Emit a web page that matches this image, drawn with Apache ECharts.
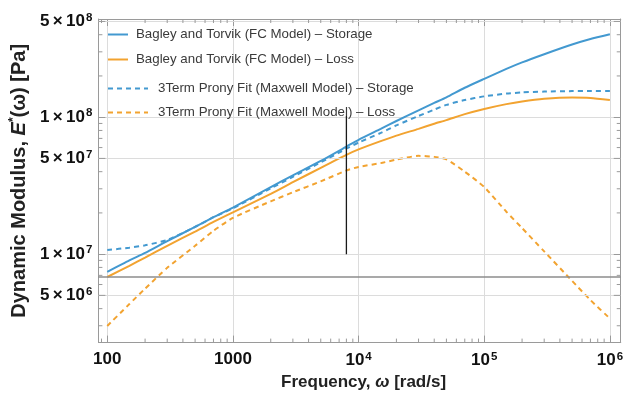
<!DOCTYPE html>
<html><head><meta charset="utf-8">
<script src="https://cdn.jsdelivr.net/npm/echarts@6/dist/echarts.min.js"></script>
<style>html,body{margin:0;padding:0;background:#fff}#c{width:626px;height:396px}</style>
</head><body><div id="c"></div>
<script>
// ---- data ----
const freq = [100,150,200,300,500,700,1000,2000,3000,5000,8000,10000,15000,20000,30000,40000,50000,70000,100000,150000,200000,300000,500000,700000,1000000];
const fcStorage = [7.41e6,9.0e6,1.02e7,1.245e7,1.58e7,1.86e7,2.19e7,3.09e7,3.76e7,4.79e7,6.1e7,6.84e7,8.22e7,9.38e7,1.122e8,1.27e8,1.396e8,1.64e8,1.905e8,2.25e8,2.51e8,2.88e8,3.39e8,3.72e8,4.03e8];
const fcLoss = [6.81e6,8.22e6,9.44e6,1.15e7,1.46e7,1.72e7,2.02e7,2.75e7,3.35e7,4.27e7,5.31e7,5.82e7,6.68e7,7.33e7,8.22e7,8.95e7,9.51e7,1.052e8,1.148e8,1.245e8,1.303e8,1.361e8,1.39e8,1.38e8,1.334e8];
const pronyStorage = [1.07e7,1.115e7,1.16e7,1.27e7,1.58e7,1.86e7,2.16e7,3.02e7,3.67e7,4.68e7,5.89e7,6.53e7,7.67e7,8.71e7,1.02e8,1.135e8,1.23e8,1.334e8,1.419e8,1.486e8,1.517e8,1.538e8,1.55e8,1.55e8,1.55e8];
const pronyLoss = [2.99e6,4.32e6,5.6e6,7.94e6,1.15e7,1.48e7,1.84e7,2.43e7,2.83e7,3.4e7,4.08e7,4.33e7,4.62e7,4.9e7,5.22e7,5.13e7,4.92e7,4.0e7,3.09e7,2.04e7,1.55e7,1.047e7,6.38e6,4.62e6,3.39e6];
const seriesNames = [
  'Bagley and Torvik (FC Model) \u2013 Storage',
  'Bagley and Torvik (FC Model) \u2013 Loss',
  '3Term Prony Fit (Maxwell Model) \u2013 Storage',
  '3Term Prony Fit (Maxwell Model) \u2013 Loss'
];
const markerX = [8000, 8000];
const markerY = [1e7, 1.02e8];
const refLineY = 6.8e6;
const xRange = [85, 1.22e6];
const yRange = [2.26e6, 5.21e8];
const xTickValues = [100, 1000, 10000, 100000, 1000000];
const xTickLabels = ['100', '1000', '10{sup|4}', '10{sup|5}', '10{sup|6}'];
const yDecadeValues = [1e7, 1e8];
const yDecadeLabels = ['1\u2009\u00d7\u200910{sup|7}', '1\u2009\u00d7\u200910{sup|8}'];
const yFiveValues = [5e6, 5e7, 5e8];
const yFiveLabels = ['5\u2009\u00d7\u200910{sup|6}', '5\u2009\u00d7\u200910{sup|7}', '5\u2009\u00d7\u200910{sup|8}'];
const xMinorTicks = [90,200,300,400,500,600,700,800,900,2000,3000,4000,5000,6000,7000,8000,9000,20000,30000,40000,50000,60000,70000,80000,90000,200000,300000,400000,500000,600000,700000,800000,900000];
const yMinorTicks = [3e6,4e6,6e6,7e6,8e6,9e6,2e7,3e7,4e7,6e7,7e7,8e7,9e7,2e8,3e8,4e8];

// ---- style ----
const BLUE = '#4399d0';
const ORANGE = '#f2a330';
const FRAME = '#9a9a9a';
const GRID = '#dcdcdc';
const FONT = '"Liberation Sans", Arial, sans-serif';
const labelRich = {
  sup: {fontSize: 11.5, fontWeight: 'bold', fontFamily: FONT, color: '#111', verticalAlign: 'top', lineHeight: 20, padding: [0,0,0,1]}
};

function zip(xs, ys) { return xs.map((x, i) => [x, ys[i]]); }

function xTick(len) {
  return function (params, api) {
    const cs = params.coordSys;
    const px = api.coord([api.value(0), api.value(1)])[0];
    const b = cs.y + cs.height, t = cs.y;
    const st = {stroke: FRAME, lineWidth: 1};
    return {type: 'group', children: [
      {type: 'line', shape: {x1: px, y1: b, x2: px, y2: b - len}, style: st},
      {type: 'line', shape: {x1: px, y1: t, x2: px, y2: t + len}, style: st}
    ]};
  };
}
function yTick(len) {
  return function (params, api) {
    const cs = params.coordSys;
    const py = api.coord([api.value(0), api.value(1)])[1];
    const l = cs.x, r = cs.x + cs.width;
    const st = {stroke: FRAME, lineWidth: 1};
    return {type: 'group', children: [
      {type: 'line', shape: {x1: l, y1: py, x2: l + len, y2: py}, style: st},
      {type: 'line', shape: {x1: r, y1: py, x2: r - len, y2: py}, style: st}
    ]};
  };
}

const chart = echarts.init(document.getElementById('c'), null, {renderer: 'canvas'});
const baseX = {type: 'log', min: xRange[0], max: xRange[1], logBase: 10};
const baseY = {type: 'log', min: yRange[0], max: yRange[1], logBase: 10};
const legendText = {fontFamily: FONT, fontSize: 13.3, color: '#3a3a3a'};
const SMOOTH = 0.2;

const option = {
  animation: false,
  backgroundColor: '#fff',
  grid: {left: 96, right: 1, top: 19, bottom: 51, containLabel: false},
  legend: [
    {data: seriesNames.slice(0, 2), orient: 'vertical', left: 107, top: 28, padding: 0, itemWidth: 20, itemHeight: 14, itemGap: 12,
     itemStyle: {opacity: 0}, textStyle: Object.assign({padding: [0,0,0,3]}, legendText)},
    {data: seriesNames.slice(2, 4), orient: 'vertical', left: 107, top: 82, padding: 0, itemWidth: 40, itemHeight: 14, itemGap: 11,
     itemStyle: {opacity: 0}, textStyle: Object.assign({padding: [0,0,0,5]}, legendText)}
  ],
  xAxis: [
    Object.assign({}, baseX, {
      position: 'bottom',
      name: 'Frequency, {i|\u03c9} [rad/s]', nameLocation: 'middle', nameGap: 31,
      nameTextStyle: {fontFamily: FONT, fontSize: 17, fontWeight: 'bold', color: '#222', padding: [0,0,0,8],
        rich: {i: {fontFamily: FONT, fontSize: 17, fontWeight: 'bold', fontStyle: 'italic', color: '#222'}}},
      axisLine: {show: true, lineStyle: {color: FRAME, width: 1}},
      axisTick: {show: true, inside: true, length: 7, lineStyle: {color: FRAME}},
      axisLabel: {
        fontFamily: FONT, fontSize: 17, fontWeight: 'bold', color: '#111', margin: 8,
        showMinLabel: false, showMaxLabel: true, rich: labelRich,
        formatter: function (v) {
          for (let i = 0; i < xTickValues.length; i++) if (Math.abs(v / xTickValues[i] - 1) < 1e-6) return xTickLabels[i];
          return '';
        }
      },
      splitLine: {show: true, lineStyle: {color: GRID, width: 1}}
    }),
    Object.assign({}, baseX, {
      position: 'top',
      axisLine: {show: true, lineStyle: {color: FRAME, width: 1}},
      axisTick: {show: true, inside: true, length: 7, lineStyle: {color: FRAME}},
      axisLabel: {show: false}, splitLine: {show: false}
    })
  ],
  yAxis: [
    Object.assign({}, baseY, {
      position: 'left',
      name: 'Dynamic Modulus, {i|E}{s|*}(\u03c9) [Pa]', nameLocation: 'middle', nameGap: 68, nameRotate: 90,
      nameTextStyle: {fontFamily: FONT, fontSize: 20, fontWeight: 'bold', color: '#222', padding: [0,0,0,0],
        rich: {
          i: {fontFamily: FONT, fontSize: 20, fontWeight: 'bold', fontStyle: 'italic', color: '#222'},
          s: {fontFamily: FONT, fontSize: 12, fontWeight: 'bold', color: '#222', verticalAlign: 'top', lineHeight: 22}
        }},
      axisLine: {show: true, lineStyle: {color: FRAME, width: 1}},
      axisTick: {show: true, inside: true, length: 7, lineStyle: {color: FRAME}},
      axisLabel: {
        fontFamily: FONT, fontSize: 17, fontWeight: 'bold', color: '#111', margin: 6,
        showMinLabel: false, showMaxLabel: false, rich: labelRich,
        formatter: function (v) {
          for (let i = 0; i < yDecadeValues.length; i++) if (Math.abs(v / yDecadeValues[i] - 1) < 1e-6) return yDecadeLabels[i];
          return '';
        }
      },
      splitLine: {show: true, lineStyle: {color: GRID, width: 1}}
    }),
    Object.assign({}, baseY, {
      position: 'right',
      axisLine: {show: true, lineStyle: {color: FRAME, width: 1}},
      axisTick: {show: true, inside: true, length: 7, lineStyle: {color: FRAME}},
      axisLabel: {show: false}, splitLine: {show: false}
    })
  ],
  series: [
    {
      name: seriesNames[0], type: 'line', data: zip(freq, fcStorage), smooth: SMOOTH, showSymbol: false, symbol: 'none',
      color: BLUE, lineStyle: {color: BLUE, width: 2}, z: 5,
      markLine: {
        silent: true, symbol: 'none', animation: false,
        data: yFiveValues.map((v, i) => ({yAxis: v, lineStyle: {color: GRID, width: 1, type: 'solid'},
          label: {show: true, position: 'start', distance: 6, formatter: yFiveLabels[i],
            fontFamily: FONT, fontSize: 17, fontWeight: 'bold', color: '#111', rich: labelRich}}))
          .concat([{yAxis: refLineY, lineStyle: {color: '#8c8c8c', width: 1.5, type: 'solid'}, label: {show: false}}])
      }
    },
    {name: seriesNames[1], type: 'line', data: zip(freq, fcLoss), smooth: SMOOTH, showSymbol: false, symbol: 'none',
     color: ORANGE, lineStyle: {color: ORANGE, width: 2}, z: 4},
    {name: seriesNames[2], type: 'line', data: zip(freq, pronyStorage), smooth: SMOOTH, showSymbol: false, symbol: 'none',
     color: BLUE, lineStyle: {color: BLUE, width: 2, type: [5, 4]}, z: 6},
    {name: seriesNames[3], type: 'line', data: zip(freq, pronyLoss), smooth: SMOOTH, showSymbol: false, symbol: 'none',
     color: ORANGE, lineStyle: {color: ORANGE, width: 2, type: [5, 4]}, z: 4},
    {name: 'marker', type: 'line', data: zip(markerX, markerY), showSymbol: false, symbol: 'none',
     lineStyle: {color: '#1a1a1a', width: 1.3}, z: 7, silent: true},
    {name: 'xminor', type: 'custom', renderItem: xTick(4), data: xMinorTicks.map(v => [v, 1e7]), silent: true, z: 8},
    {name: 'yminor', type: 'custom', renderItem: yTick(4), data: yMinorTicks.map(v => [1000, v]), silent: true, z: 8},
    {name: 'ymid', type: 'custom', renderItem: yTick(7), data: yFiveValues.map(v => [1000, v]), silent: true, z: 8}
  ]
};
chart.setOption(option);
</script>
</body></html>
